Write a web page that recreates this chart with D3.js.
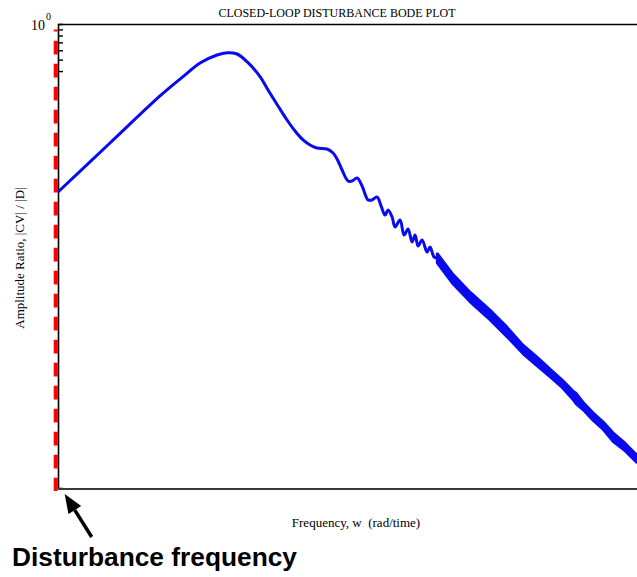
<!DOCTYPE html>
<html>
<head>
<meta charset="utf-8">
<script src="https://cdn.jsdelivr.net/npm/d3@7"></script>
<style>
  html, body { margin: 0; padding: 0; background: #fff; overflow: hidden; }
</style>
</head>
<body>
<div id="chart"></div>
<script>
// Closed-loop disturbance Bode plot.
// frequency in rad/time, amplitude ratio |CV|/|D|
var freq = [0.0100, 0.02525, 0.0615, 0.09264, 0.1254, 0.1697, 0.2028, 0.2423, 0.2895,
            0.3650, 0.4209, 0.5029, 0.5904, 0.6808, 0.785, 0.8892, 1.007, 1.203, 1.340,
            1.464, 1.572, 1.750, 1.879, 2.054, 2.245, 2.497, 2.682, 2.932, 3.149, 3.381,
            3.566, 3.831, 4.041, 4.416, 4.742, 5.093, 5.468, 5.768, 6.084, 6.534, 7.142,
            7.534, 8.091, 8.534];
var amp = [0.03805, 0.0987, 0.2464, 0.3587, 0.4681, 0.547, 0.5721, 0.5578, 0.4801,
           0.3587, 0.2768, 0.2028, 0.1545, 0.1247, 0.1047, 0.09495, 0.0896, 0.0878, 0.0813,
           0.0696, 0.0584, 0.0471, 0.0471, 0.0500, 0.0428, 0.0326, 0.0326, 0.0345, 0.0290,
           0.0243, 0.0268, 0.0234, 0.0193, 0.0221, 0.0165, 0.0185, 0.0144, 0.0165, 0.0133,
           0.01496, 0.01184, 0.01305, 0.01074, 0.0106];

// high-frequency part: the response oscillates fast, drawn as a band
var bandFreq = [8.534, 11.15, 15.36, 21.94, 29.69, 39.47, 50.65, 63.86, 79.06, 96.16,
                101.4, 114.9, 137.3, 164.1, 196.1, 242.8, 300];
var bandHi = [0.01161, 0.007866, 0.005437, 0.003831, 0.002752, 0.001939, 0.001535,
              0.001215, 0.0009876, 0.0007934, 0.0007618, 0.0006395, 0.0005196,
              0.0004361, 0.0003522, 0.000288, 0.000228];
var bandLo = [0.009559, 0.006476, 0.004476, 0.003153, 0.002265, 0.001627, 0.001288,
              0.00104, 0.0008453, 0.0006652, 0.0006152, 0.0005472, 0.0004446,
              0.0003733, 0.0002956, 0.0002465, 0.0001952];

var disturbanceFreq = 0.0096;
var disturbanceTop = 0.9;
var yMinorTicks = [0.9, 0.8, 0.7, 0.6, 0.5, 0.4];
var xDomain = [0.01, 300];
var yDomain = [1.2e-4, 1];

var W = 637, H = 577;
var margin = { top: 24, left: 58 };
var plotW = 579, plotH = 464;
var BLUE = "#0a0aee", SERIF = "'Liberation Serif', 'Times New Roman', serif";

var svg = d3.select("#chart").append("svg")
    .attr("width", W).attr("height", H);

var x = d3.scaleLog().domain(xDomain).range([margin.left, margin.left + plotW]);
var y = d3.scaleLog().domain(yDomain).range([margin.top + plotH, margin.top]);

// title
svg.append("text")
    .attr("x", 337).attr("y", 17)
    .attr("text-anchor", "middle")
    .attr("font-family", SERIF).attr("font-size", "12px")
    .text("CLOSED-LOOP DISTURBANCE BODE PLOT");

// top frame line
svg.append("line")
    .attr("x1", margin.left).attr("x2", margin.left + plotW)
    .attr("y1", margin.top + 0.5).attr("y2", margin.top + 0.5)
    .attr("stroke", "#000").attr("stroke-width", 1.5);

// disturbance frequency marker
var dx = x(disturbanceFreq);
svg.append("line")
    .attr("x1", dx).attr("x2", dx)
    .attr("y1", y(disturbanceTop)).attr("y2", margin.top + plotH + 3)
    .attr("stroke", "#ff0000").attr("stroke-width", 4)
    .attr("stroke-dasharray", "13.7 9.3")
    .attr("stroke-dashoffset", 11.7);

// y axis with inward minor ticks
var yAxis = d3.axisRight(y).tickValues(yMinorTicks).tickSize(5).tickFormat("");
var ya = svg.append("g")
    .attr("transform", "translate(" + margin.left + ",0)")
    .call(yAxis);
ya.select(".domain").attr("stroke", "#000").attr("stroke-width", 1.6);
ya.selectAll(".tick line").attr("stroke", "#000").attr("stroke-width", 1.4);

// x axis line (no ticks)
svg.append("line")
    .attr("x1", margin.left).attr("x2", margin.left + plotW)
    .attr("y1", margin.top + plotH + 1).attr("y2", margin.top + plotH + 1)
    .attr("stroke", "#3a3a3a").attr("stroke-width", 2);

// 10^0 label
svg.append("text")
    .attr("x", 45).attr("y", y(1) + 6)
    .attr("text-anchor", "end")
    .attr("font-family", SERIF).attr("font-size", "14px")
    .text("10");
svg.append("text")
    .attr("x", 46).attr("y", y(1) - 4)
    .attr("font-family", SERIF).attr("font-size", "10px")
    .text("0");

// curve
var line = d3.line()
    .x(function (d) { return x(d[0]); })
    .y(function (d) { return y(d[1]); })
    .curve(d3.curveCatmullRom.alpha(0.5));

var pts = freq.map(function (f, i) { return [f, amp[i]]; });
svg.append("path")
    .datum(pts)
    .attr("fill", "none")
    .attr("stroke", BLUE)
    .attr("stroke-width", 3)
    .attr("d", line);

var band = d3.area()
    .x(function (d) { return x(d.f); })
    .y0(function (d) { return y(d.lo); })
    .y1(function (d) { return y(d.hi); });

var bandPts = bandFreq.map(function (f, i) { return { f: f, hi: bandHi[i], lo: bandLo[i] }; });
svg.append("path")
    .datum(bandPts)
    .attr("fill", BLUE)
    .attr("stroke", BLUE)
    .attr("stroke-width", 2.5)
    .attr("stroke-linejoin", "bevel")
    .attr("d", band);

// axis labels
svg.append("text")
    .attr("transform", "translate(24," + 258 + ") rotate(-90)")
    .attr("text-anchor", "middle")
    .attr("font-family", SERIF).attr("font-size", "13px")
    .text("Amplitude Ratio, |CV| / |D|");

svg.append("text")
    .attr("x", 356).attr("y", 527)
    .attr("text-anchor", "middle")
    .attr("font-family", SERIF).attr("font-size", "13px")
    .style("white-space", "pre")
    .text("Frequency, w  (rad/time)");

// annotation arrow pointing at the disturbance marker
var tip = [dx + 9, margin.top + plotH + 6];
var tail = [tip[0] + 27, tip[1] + 43];
var len = Math.hypot(tail[0] - tip[0], tail[1] - tip[1]);
var ux = (tail[0] - tip[0]) / len, uy = (tail[1] - tip[1]) / len;
var base = [tip[0] + ux * 19, tip[1] + uy * 19];
svg.append("line")
    .attr("x1", base[0]).attr("y1", base[1])
    .attr("x2", tail[0]).attr("y2", tail[1])
    .attr("stroke", "#000").attr("stroke-width", 3.5);
svg.append("polygon")
    .attr("points", [
        tip,
        [base[0] + uy * 7.5, base[1] - ux * 7.5],
        [base[0] - uy * 7.5, base[1] + ux * 7.5]
    ].map(function (p) { return p.join(","); }).join(" "))
    .attr("fill", "#000");

svg.append("text")
    .attr("x", 12).attr("y", 566)
    .attr("font-family", "'Liberation Sans', Arial, sans-serif")
    .attr("font-weight", "bold").attr("font-size", "26.3px")
    .text("Disturbance frequency");
</script>
</body>
</html>
